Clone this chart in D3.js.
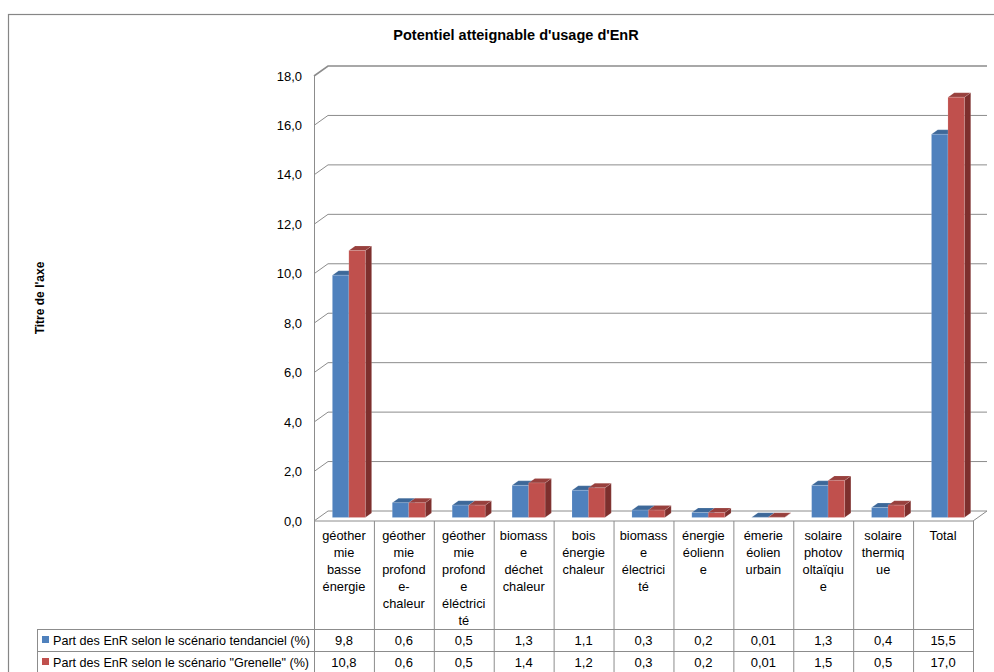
<!DOCTYPE html>
<html>
<head>
<meta charset="utf-8">
<script src="https://cdn.jsdelivr.net/npm/d3@7"></script>
<style>
  html, body { margin: 0; padding: 0; background: #fff; }
  svg { display: block; font-family: "Liberation Sans", Arial, sans-serif; }
</style>
</head>
<body>
<svg id="chart" width="994" height="672"></svg>
<script>
// Categories, as wrapped in the data table header cells
const categoryLines = [
  ["géother", "mie", "basse", "énergie"],
  ["géother", "mie", "profond", "e-", "chaleur"],
  ["géother", "mie", "profond", "e", "éléctrici", "té"],
  ["biomass", "e", "déchet", "chaleur"],
  ["bois", "énergie", "chaleur"],
  ["biomass", "e", "électrici", "té"],
  ["énergie", "éolienn", "e"],
  ["émerie", "éolien", "urbain"],
  ["solaire", "photov", "oltaïqiu", "e"],
  ["solaire", "thermiq", "ue"],
  ["Total"]
];
const categories = categoryLines.map(l => l.join(" "));

const seriesNames = [
  "Part des EnR selon le scénario tendanciel (%)",
  "Part des EnR selon le scénario \"Grenelle\" (%)"
];
const tendanciel = [9.8, 0.6, 0.5, 1.3, 1.1, 0.3, 0.2, 0.01, 1.3, 0.4, 15.5];
const grenelle   = [10.8, 0.6, 0.5, 1.4, 1.2, 0.3, 0.2, 0.01, 1.5, 0.5, 17.0];
const yTicks = [0, 2, 4, 6, 8, 10, 12, 14, 16, 18];

const seriesValues = [tendanciel, grenelle];
const palette = [
  { front: "#4f81bd", top: "#3d6899", side: "#385d8a" },
  { front: "#c0504d", top: "#98403d", side: "#7d2f2d" }
];

const svg = d3.select("#chart");
const gridColor = "#8c8c8c";
const tableColor = "#8c8c8c";

// Plot geometry (front plane) and 3D depth offset
const plotLeft = 314, plotRight = 973, plotBase = 521, plotTop = 76;
const DX = 14, DY = -10;
const t0 = 0.35, t1 = 0.8;   // bar depth span within the floor

const x = d3.scaleBand().domain(categories).range([plotLeft, plotRight]).padding(0);
const bw = x.bandwidth();
const xs = d3.scaleBand().domain(d3.range(seriesValues.length)).range([bw * 0.225, bw * 0.775]);
const y = d3.scaleLinear().domain([0, 18]).range([plotBase, plotTop]);
const P = (px, v, t) => [px + DX * t, y(v) + DY * t];
const fmt = v => (v < 0.1 && v > 0 ? d3.format(".2f")(v) : d3.format(".1f")(v)).replace(".", ",");

// Chart area border
svg.append("rect").attr("x", 8.5).attr("y", 14.5).attr("width", 1000).attr("height", 700)
  .attr("fill", "none").attr("stroke", "#868686").attr("stroke-width", 1.2);

// Title
svg.append("text").attr("x", 516).attr("y", 40).attr("text-anchor", "middle")
  .attr("font-size", 14.5).attr("font-weight", "bold").attr("fill", "#000")
  .text("Potentiel atteignable d'usage d'EnR");

// Axis title
svg.append("text").attr("transform", "translate(44,298) rotate(-90)")
  .attr("text-anchor", "middle").attr("font-size", 12).attr("font-weight", "bold")
  .text("Titre de l'axe");

// Walls: gridlines on back wall and left side wall
const grid = svg.append("g").attr("stroke", gridColor).attr("fill", "none");
yTicks.forEach(v => {
  const a = P(plotLeft, v, 0), b = P(plotLeft, v, 1), c = P(plotRight, v, 1);
  grid.append("path").attr("d", `M${a}L${b}L${c}`)
    .attr("stroke-width", v === 18 ? 1.6 : 1);
});
// Vertical axis and floor front edges
grid.append("line").attr("x1", plotLeft + 0.5).attr("x2", plotLeft + 0.5).attr("y1", y(18)).attr("y2", plotBase);
{
  const a = P(plotLeft, 0, 0), b = P(plotRight, 0, 0), c = P(plotRight, 0, 1);
  grid.append("path").attr("d", `M${a}L${b}L${c}`);
}

// Y tick labels
svg.append("g").selectAll("text").data(yTicks).join("text")
  .attr("x", 302).attr("y", d => y(d) + 4.5).attr("text-anchor", "end")
  .attr("font-size", 13).attr("fill", "#000").text(fmt);

// Bars as 3D boxes
const bars = svg.append("g");
categories.forEach((cat, i) => {
  seriesValues.forEach((vals, s) => {
    const v = vals[i];
    const xl = x(cat) + xs(s), xr = xl + xs.bandwidth();
    const col = palette[s];
    const fbl = P(xl, 0, t0), fbr = P(xr, 0, t0), ftl = P(xl, v, t0), ftr = P(xr, v, t0);
    const btl = P(xl, v, t1), btr = P(xr, v, t1), bbr = P(xr, 0, t1);
    const g = bars.append("g").attr("stroke", "rgba(255,255,255,0.25)").attr("stroke-width", 0.5);
    g.append("path").attr("d", `M${fbr}L${bbr}L${btr}L${ftr}Z`).attr("fill", col.side);
    g.append("path").attr("d", `M${ftl}L${ftr}L${btr}L${btl}Z`).attr("fill", col.top);
    g.append("path").attr("d", `M${fbl}L${fbr}L${ftr}L${ftl}Z`).attr("fill", col.front);
  });
});

// Data table
const table = svg.append("g").attr("stroke", tableColor).attr("fill", "none");
const bounds = categories.map(c => x(c)).concat([plotRight]);
bounds.forEach(bx => {
  table.append("line").attr("x1", bx + 0.5).attr("x2", bx + 0.5).attr("y1", plotBase).attr("y2", 672);
});
const rowTops = [629, 651];
rowTops.forEach(ry => {
  table.append("line").attr("x1", 37).attr("x2", plotRight).attr("y1", ry + 0.5).attr("y2", ry + 0.5);
});
table.append("line").attr("x1", 37.5).attr("x2", 37.5).attr("y1", 629).attr("y2", 672);

// Category header cells
const head = svg.append("g").attr("font-size", 12.8).attr("fill", "#000").attr("text-anchor", "middle");
categoryLines.forEach((lines, i) => {
  const cx = x(categories[i]) + bw / 2;
  lines.forEach((ln, k) => {
    head.append("text").attr("x", cx).attr("y", 539.5 + k * 17).text(ln);
  });
});

// Series rows: legend key, name and values
seriesValues.forEach((vals, s) => {
  const ry = rowTops[s];
  svg.append("rect").attr("x", 42).attr("y", ry + 7).attr("width", 7).attr("height", 7)
    .attr("fill", palette[s].front);
  svg.append("text").attr("x", 53).attr("y", ry + 15.5).attr("font-size", 12.6).attr("fill", "#000")
    .text(seriesNames[s]);
  svg.append("g").selectAll("text").data(vals).join("text")
    .attr("x", (d, i) => x(categories[i]) + bw / 2).attr("y", ry + 15.5)
    .attr("text-anchor", "middle").attr("font-size", 13).attr("fill", "#000")
    .text(fmt);
});
</script>
</body>
</html>
